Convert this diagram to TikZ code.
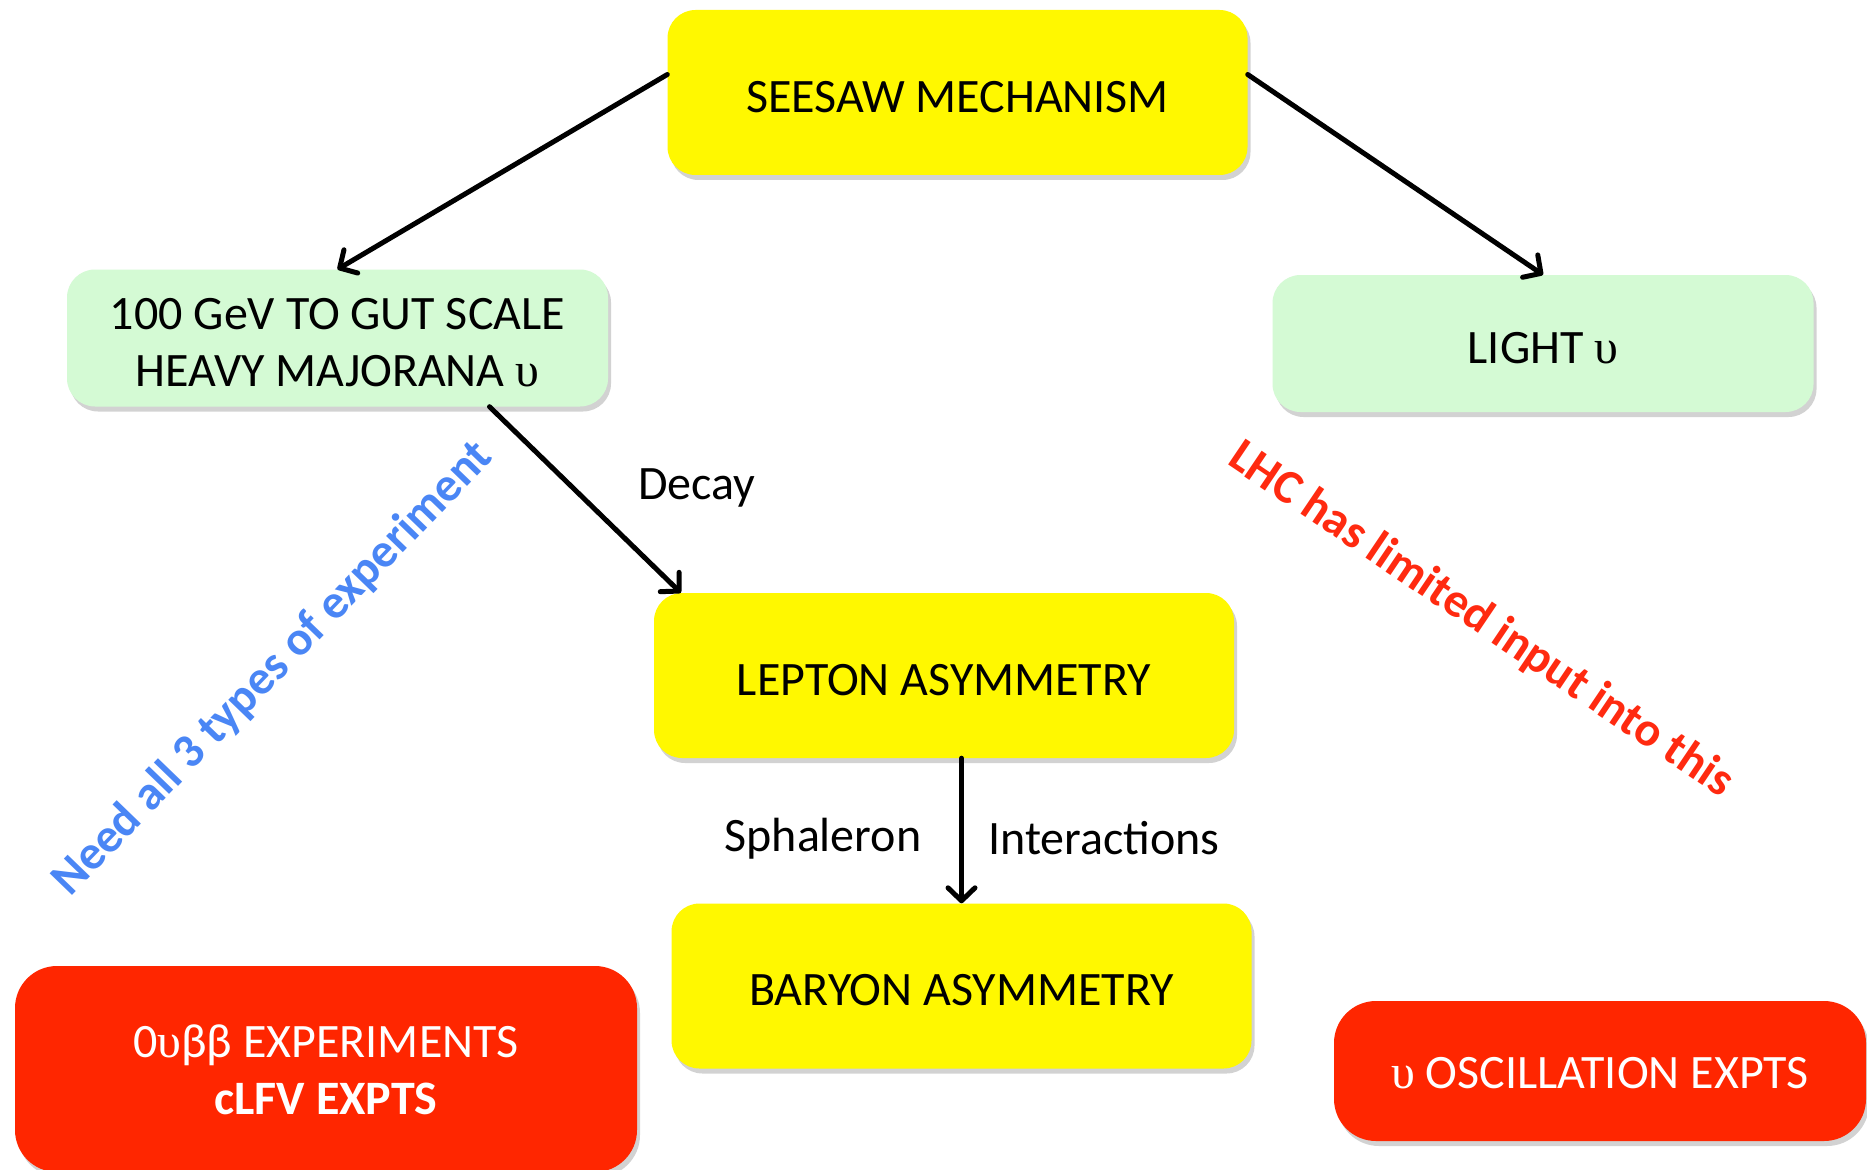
\documentclass[tikz,border=0pt]{standalone}
\usepackage{fontspec}
\setmainfont{Carlito}
\newfontfamily\upsfont{Liberation Serif}
\usetikzlibrary{arrows.meta,shadows,calc}
\definecolor{boxyellow}{HTML}{FFF800}
\definecolor{boxgreen}{HTML}{D4FAD4}
\definecolor{boxred}{HTML}{FF2600}
\definecolor{noteblue}{HTML}{4A86F5}
\definecolor{notered}{HTML}{FF2A10}
\newcommand{\ups}{{\upsfont υ}}
\newcommand{\tstrut}{\rule{0pt}{40pt}}
\tikzset{
  box/.style={rounded corners=28pt, inner sep=0pt, align=center,
    drop shadow={opacity=0.35, shadow xshift=3pt, shadow yshift=-5pt},
    font=\fontsize{48}{57}\selectfont},
  ybox/.style={box, fill=boxyellow, minimum width=580pt, minimum height=165pt},
  gbox/.style={box, fill=boxgreen, minimum width=541pt, minimum height=137pt},
  rbox/.style={box, fill=boxred, text=white, rounded corners=42pt},
  conn/.style={line width=5pt, line cap=round, -{Straight Barb[length=13pt,width=27pt,line width=5pt,round]}},
  lbl/.style={font=\fontsize{48}{57}\selectfont, inner sep=0pt},
  note/.style={font=\fontsize{48}{57}\selectfont\bfseries, inner sep=0pt}
}
\begin{document}
\begin{tikzpicture}[x=1pt,y=-1pt]
\useasboundingbox (0,0) rectangle (1867,1169);
\fill[white] (0,0) rectangle (1867,1169);

\node[ybox] (seesaw) at (957.5,92.5) {\tstrut SEESAW MECHANISM};
\node[gbox] (heavy) at (337.5,338) {\tstrut 100 GeV TO GUT SCALE\\HEAVY MAJORANA \ups};
\node[gbox] (light) at (1543,343.5) {\tstrut LIGHT \ups};
\node[ybox] (lepton) at (944,675.5) {\tstrut LEPTON ASYMMETRY};
\node[ybox] (baryon) at (961.5,986) {\tstrut BARYON ASYMMETRY};
\node[rbox, minimum width=622pt, minimum height=206pt] (zero) at (326,1069) {\rule{0pt}{34pt}0\ups ββ EXPERIMENTS\\\textbf{cLFV EXPTS}};
\node[rbox, minimum width=532pt, minimum height=140pt] (osc) at (1600,1071) {\rule{0pt}{35pt}\ups{} OSCILLATION EXPTS};

\draw[conn] ($(seesaw.west)+(0,-18)$) -- (heavy.north);
\draw[conn] ($(seesaw.east)+(0,-18)$) -- (light.north);
\draw[conn] ($(heavy.south)+(152,0)$) -- ($(lepton.north west)+(27,0)$);
\draw[conn] (lepton.south -| baryon.north) -- (baryon.north);

\node[lbl] (decay) at (697,488) {Decay};
\node[lbl] (sph) at (823,839) {Sphaleron};
\node[lbl] (inter) at (1104,838) {Interactions};

\node[note, text=noteblue, rotate=46] (need) at (273,669) {Need all 3 types of experiment};
\node[note, text=notered, rotate=-34] (lhc) at (1481,620) {LHC has limited input into this};
\end{tikzpicture}
\end{document}
